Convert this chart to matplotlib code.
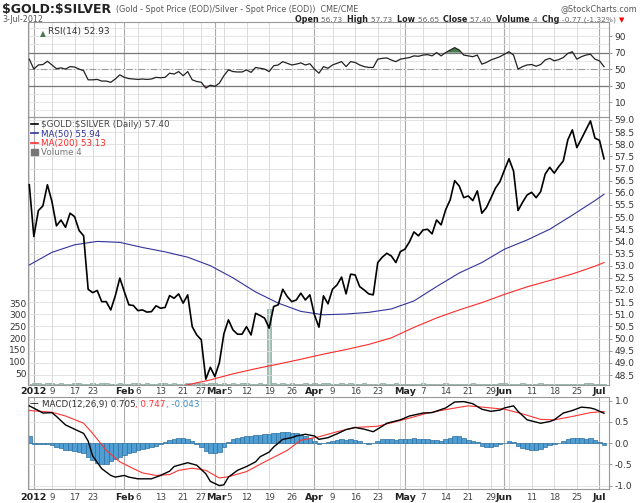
import matplotlib
matplotlib.use("Agg")
import matplotlib.pyplot as plt
from matplotlib.lines import Line2D
from matplotlib.patches import Patch
import numpy as np
import pandas as pd

# trading calendar (NYSE), 30-Dec-2011 .. 3-Jul-2012
holidays = ["2012-01-02", "2012-01-16", "2012-02-20", "2012-04-06", "2012-05-28"]
dates = pd.bdate_range("2011-12-30", "2012-07-03")
dates = dates[~dates.isin(pd.to_datetime(holidays))]

# $GOLD:$SILVER daily close
price = [56.33, 54.20, 55.27, 55.46, 56.33, 55.64, 54.64, 54.88, 54.58, 55.16,
         55.02, 54.45, 54.23, 52.03, 51.89, 51.98, 51.52, 51.52, 51.18, 51.76,
         52.49, 51.93, 51.39, 51.36, 51.15, 51.18, 51.09, 51.11, 51.35, 51.25,
         51.28, 51.77, 51.66, 51.84, 51.46, 51.80, 50.49, 50.15, 49.95, 48.33,
         48.82, 48.44, 49.01, 50.20, 50.77, 50.36, 50.18, 50.18, 50.49, 50.15,
         51.04, 50.95, 50.84, 50.43, 51.32, 51.39, 52.03, 51.73, 51.52, 51.59,
         51.87, 51.59, 51.80, 50.98, 50.47, 51.76, 51.43, 52.03, 52.21, 52.53,
         51.84, 52.65, 52.62, 52.14, 52.00, 51.84, 51.80, 53.13, 53.35, 53.51,
         53.40, 53.13, 53.58, 53.68, 53.98, 54.39, 54.23, 54.47, 54.50, 54.31,
         54.88, 54.68, 55.30, 55.71, 56.50, 56.28, 55.80, 55.87, 55.68, 56.08,
         55.16, 55.39, 55.78, 56.19, 56.46, 56.94, 57.40, 56.90, 55.27, 55.61,
         55.91, 56.02, 55.80, 56.05, 56.77, 57.05, 56.81, 57.08, 57.31, 58.18,
         58.59, 57.86, 58.22, 58.59, 58.96, 58.25, 58.16, 57.40]

volume = [6, 8, 8, 6, 8, 8, 6, 8, 6, 6, 8, 8, 6, 6, 8, 6, 8, 8, 6, 6,
          8, 6, 6, 8, 8, 6, 8, 6, 6, 8, 8, 6, 8, 6, 6, 8, 6, 8, 8, 6,
          8, 8, 6, 8, 6, 8, 6, 8, 8, 6, 6, 8, 6, 325, 8, 6, 8, 6, 8, 6,
          6, 8, 6, 8, 6, 8, 8, 6, 6, 8, 6, 8, 6, 6, 8, 6, 6, 6, 8, 6,
          6, 8, 6, 6, 6, 6, 6, 8, 6, 6, 6, 6, 8, 6, 6, 6, 6, 6, 8, 6,
          6, 6, 6, 6, 8, 8, 6, 6, 6, 8, 6, 6, 6, 8, 6, 6, 6, 6, 6, 6,
          6, 6, 6, 8, 8, 6, 6, 4]

# moving averages, read at sample days (index into dates)
ma50_days = [0, 5, 10, 15, 20, 25, 30, 35, 40, 45, 50, 55, 60, 65, 70, 75, 80,
             85, 90, 95, 100, 105, 110, 115, 120, 125, 127]
ma50 = [53.03, 53.55, 53.86, 54.00, 53.96, 53.75, 53.57, 53.35, 53.00, 52.50,
        51.92, 51.46, 51.12, 50.98, 51.01, 51.08, 51.22, 51.55, 52.14, 52.70,
        53.13, 53.68, 54.06, 54.50, 55.08, 55.68, 55.94]
ma200_days = [30, 35, 40, 45, 50, 55, 60, 65, 70, 75, 80, 85, 90, 95, 100,
              105, 110, 115, 120, 125, 127]
ma200 = [47.87, 48.10, 48.30, 48.55, 48.76, 48.95, 49.15, 49.36, 49.55, 49.76,
         50.03, 50.46, 50.85, 51.18, 51.48, 51.82, 52.13, 52.39, 52.66, 52.98,
         53.13]

rsi = [62, 50, 55, 55.5, 59.5, 55, 50.5, 51.5, 50, 53,
       52.5, 50, 48, 37, 37, 37.5, 35.5, 35.5, 34, 38,
       43, 40, 38.5, 38, 37.5, 38, 37.5, 38, 40, 39.5,
       40, 45, 44, 47, 42, 47, 37, 35, 34, 27,
       30.5, 29, 33, 42, 49, 47, 46.5, 46.5, 49, 46,
       52, 51, 50, 47, 54, 55, 59, 57, 55, 56,
       57.5, 55, 56.5, 50, 45, 53, 51, 55, 57, 59,
       53, 59, 58, 55, 53, 52, 52, 62, 63, 63.5,
       61, 59, 62, 63, 64, 66, 65.5, 67, 67.5, 66,
       70, 66, 70, 73, 76, 73, 67, 66, 65, 67,
       56, 58, 61, 63, 65, 68, 71, 67, 50, 53,
       55, 55.5, 53.5, 55.5, 61, 63, 60, 61.5, 64, 69,
       71, 62, 65, 67, 68, 62, 60, 52.93]

macd_days = [0, 2, 3, 5, 6, 8, 10, 12, 13, 14, 16, 18, 19, 21, 22, 24, 27, 29,
             31, 32, 35, 37, 39, 40, 42, 43, 44, 46, 48, 50, 51, 53, 54, 56, 58,
             59, 61, 63, 64, 66, 68, 70, 72, 74, 76, 78, 79, 82, 84, 87, 89, 92,
             94, 96, 98, 100, 102, 104, 105, 107, 108, 110, 113, 115, 116, 118,
             120, 122, 124, 125, 127]
macd = [0.88, 0.77, 0.71, 0.72, 0.63, 0.43, 0.33, 0.23, 0.05, -0.30, -0.60,
        -0.76, -0.80, -0.76, -0.80, -0.84, -0.84, -0.76, -0.66, -0.55, -0.46,
        -0.52, -0.72, -0.90, -1.00, -0.98, -0.80, -0.64, -0.55, -0.44, -0.32,
        -0.21, -0.09, 0.09, 0.13, 0.17, 0.21, 0.17, 0.09, 0.13, 0.22, 0.32,
        0.37, 0.33, 0.27, 0.40, 0.47, 0.55, 0.64, 0.71, 0.72, 0.83, 0.97,
        0.98, 0.93, 0.80, 0.75, 0.78, 0.83, 0.88, 0.75, 0.55, 0.47, 0.51,
        0.55, 0.71, 0.77, 0.85, 0.83, 0.80, 0.705]
signal_days = [0, 5, 8, 12, 14, 17, 20, 23, 25, 28, 31, 33, 36, 39, 41, 42, 44,
               48, 52, 57, 60, 64, 68, 72, 77, 80, 84, 88, 93, 97, 102, 105,
               109, 113, 116, 120, 124, 127]
signal = [0.77, 0.73, 0.64, 0.47, 0.23, -0.17, -0.44, -0.60, -0.70, -0.76,
          -0.74, -0.64, -0.59, -0.64, -0.76, -0.82, -0.79, -0.67, -0.44, -0.17,
          0.07, 0.15, 0.27, 0.37, 0.40, 0.48, 0.59, 0.71, 0.81, 0.88, 0.83,
          0.80, 0.69, 0.56, 0.55, 0.63, 0.72, 0.747]
hist = [0.17, -0.01, -0.03, -0.03, -0.02, -0.05, -0.08, -0.12, -0.15, -0.17,
        -0.18, -0.20, -0.24, -0.33, -0.40, -0.46, -0.50, -0.48, -0.43, -0.38,
        -0.32, -0.28, -0.24, -0.20, -0.17, -0.14, -0.12, -0.09, -0.06, -0.02,
        0.02, 0.07, 0.11, 0.13, 0.12, 0.11, 0.04, -0.03, -0.10, -0.18,
        -0.22, -0.23, -0.20, -0.10, 0.02, 0.09, 0.12, 0.14, 0.16, 0.18,
        0.19, 0.20, 0.21, 0.21, 0.23, 0.24, 0.26, 0.27, 0.25, 0.23,
        0.20, 0.16, 0.12, 0.05, -0.02, 0.00, 0.03, 0.06, 0.08, 0.10,
        0.08, 0.10, 0.08, 0.05, 0.01, -0.02, 0.00, 0.05, 0.09, 0.10,
        0.09, 0.08, 0.09, 0.10, 0.11, 0.12, 0.10, 0.10, 0.09, 0.07,
        0.07, 0.05, 0.09, 0.12, 0.18, 0.17, 0.13, 0.08, 0.05, 0.02,
        -0.06, -0.08, -0.08, -0.06, -0.03, 0.01, 0.04, 0.03, -0.07, -0.12,
        -0.14, -0.16, -0.16, -0.13, -0.09, -0.05, -0.03, 0.01, 0.05, 0.10,
        0.13, 0.12, 0.12, 0.11, 0.13, 0.08, 0.03, -0.043]

tick_dates = ["2012-01-03", "2012-01-09", "2012-01-17", "2012-01-23", "2012-02-01",
              "2012-02-06", "2012-02-13", "2012-02-21", "2012-02-27", "2012-03-01",
              "2012-03-05", "2012-03-12", "2012-03-19", "2012-03-26", "2012-04-02",
              "2012-04-09", "2012-04-16", "2012-04-23", "2012-05-01", "2012-05-07",
              "2012-05-14", "2012-05-21", "2012-05-29", "2012-06-01", "2012-06-11",
              "2012-06-18", "2012-06-25", "2012-07-02"]
tick_labels = ["2012", "9", "17", "23", "Feb", "6", "13", "21", "27", "Mar",
               "5", "12", "19", "26", "Apr", "9", "16", "23", "May", "7",
               "14", "21", "29", "Jun", "11", "18", "25", "Jul"]
bold_labels = ["2012", "Feb", "Mar", "Apr", "May", "Jun", "Jul"]

x = np.arange(len(dates))
pos = {d: i for i, d in enumerate(dates)}
week_start = [i for i in x if i == 0 or dates[i].weekday() < dates[i - 1].weekday()]
month_start = [i for i in x if i > 0 and dates[i].month != dates[i - 1].month]
tick_pos = [pos[pd.Timestamp(d)] for d in tick_dates]

W, H = 640, 503
fig = plt.figure(figsize=(W / 100, H / 100), dpi=100)
L, R = 28, 609


def rect(top, bottom):
    return [L / W, 1 - bottom / H, (R - L) / W, (bottom - top) / H]


ax_rsi = fig.add_axes(rect(22, 117))
ax_p = fig.add_axes(rect(117, 385))
ax_m = fig.add_axes(rect(396.5, 489))
ax_v = ax_p.twinx()
ax_p.set_zorder(ax_v.get_zorder() + 1)
ax_p.patch.set_visible(False)

tick_col = "#333333"
frame_col = "#999999"
xlim = (-0.29, 128.1)

for ax in (ax_rsi, ax_p, ax_m):
    ax.set_xlim(*xlim)
    for s in ax.spines.values():
        s.set_color(frame_col)
        s.set_linewidth(0.8)
    for i in week_start:
        ax.axvline(i, color="#dadada", lw=0.7, zorder=0)
    for i in month_start:
        ax.axvline(i, color="#aaaaaa", lw=0.8, zorder=0)
    ax.yaxis.tick_right()
    ax.tick_params(axis="y", labelsize=6.5, colors=tick_col, length=2.5,
                   width=0.6, pad=1.5, direction="out")
    ax.tick_params(axis="y", color="#888888")
    ax.set_xticks([])
ax_v.set_xlim(*xlim)

# ---- RSI panel
rsi_a = np.array(rsi)
for v in range(0, 101, 10):
    ax_rsi.axhline(v, color="#e2e2e2", lw=0.6, zorder=0)
ax_rsi.axhline(70, color="#777777", lw=0.9, zorder=1)
ax_rsi.axhline(30, color="#777777", lw=0.9, zorder=1)
ax_rsi.axhline(50, color="#999999", lw=0.8, ls=(0, (6, 2, 1, 2)), zorder=1)
ax_rsi.fill_between(x, rsi_a, 70, where=rsi_a >= 70, interpolate=True,
                    color="#4a7a4e", lw=0, zorder=2)
ax_rsi.fill_between(x, rsi_a, 30, where=rsi_a <= 30, interpolate=True,
                    color="#a05a5a", lw=0, zorder=2)
ax_rsi.plot(x, rsi_a, color="#222222", lw=0.9, zorder=3)
ax_rsi.set_ylim(-8, 107)
ax_rsi.set_yticks([10, 30, 50, 70, 90])
ax_rsi.text(0.02, 0.93, "\u25b2", color="#4a7a4e", fontsize=5.5,
            transform=ax_rsi.transAxes, va="top")
ax_rsi.text(0.034, 0.95, "RSI(14) 52.93", color="#333333", fontsize=6.5,
            transform=ax_rsi.transAxes, va="top")

# ---- price panel
for v in np.arange(48.5, 59.01, 0.5):
    ax_p.axhline(v, color="#dedede", lw=0.6, zorder=0)
ax_v.bar(x, volume, width=1.0, color="#a9c2ba", edgecolor="#8aa89e", lw=0.5)
ax_v.set_ylim(0, 1148)
ax_v.yaxis.tick_left()
ax_v.set_yticks(range(50, 351, 50))
ax_v.tick_params(axis="y", labelsize=6.5, colors=tick_col, length=0, pad=1)
for s in ax_v.spines.values():
    s.set_visible(False)

ax_p.plot(ma50_days, ma50, color="#33339a", lw=0.8, zorder=3)
ax_p.plot(ma200_days, ma200, color="#ff2a2a", lw=0.8, zorder=3)
ax_p.plot(x, price, color="black", lw=1.2, zorder=4)
ax_p.set_ylim(48.09, 59.12)
ax_p.set_yticks(np.arange(48.5, 59.01, 0.5))
ax_p.set_yticklabels([f"{v:.1f}" for v in np.arange(48.5, 59.01, 0.5)])

handles = [Line2D([], [], color="black", lw=1.2),
           Line2D([], [], color="#33339a", lw=1.2),
           Line2D([], [], color="#ff2a2a", lw=1.2),
           Patch(color="#777777")]
labels = ["\\$GOLD:\\$SILVER (Daily) 57.40", "MA(50) 55.94", "MA(200) 53.13",
          "Volume 4"]
ax_p.legend(handles, labels, loc="upper left", fontsize=6.3, frameon=False,
            handlelength=0.8, handletextpad=0.3, labelspacing=0.05,
            borderaxespad=0.15, borderpad=0.2,
            labelcolor=["#444444", "#33339a", "#ff2a2a", "#777777"])

# ---- MACD panel
for v in [-1.0, -0.5, 0.0, 0.5, 1.0]:
    ax_m.axhline(v, color="#e0e0e0", lw=0.6, zorder=0)
ax_m.bar(x, hist, width=1.0, color="#4f9fd4", edgecolor="#2e6f9e", lw=0.5,
         zorder=2)
ax_m.plot(signal_days, signal, color="#ff3333", lw=0.8, zorder=3)
ax_m.plot(macd_days, macd, color="black", lw=1.0, zorder=4)
ax_m.set_ylim(-1.08, 1.10)
ax_m.set_yticks([-1.0, -0.5, 0.0, 0.5, 1.0])
ax_m.set_yticklabels(["-1.0", "-0.5", "0.0", "0.5", "1.0"])

fig.canvas.draw()
renderer = fig.canvas.get_renderer()


def seq(xpx, ypx, pieces, ha="left"):
    arts = []
    cur = xpx
    for s, kw in pieces:
        t = fig.text(cur / W, 1 - ypx / H, s, va="center", parse_math=False, **kw)
        cur += t.get_window_extent(renderer).width
        arts.append(t)
    if ha == "right":
        shift = cur - xpx
        for t in arts:
            px, py = t.get_position()
            t.set_x(px - shift / W)
    return arts


seq(30, 404, [("\u2014 ", dict(color="black", fontsize=6.3)),
              ("MACD(12,26,9) 0.705", dict(color="#333333", fontsize=6.3)),
              (", 0.747", dict(color="#ff3333", fontsize=6.3)),
              (", -0.043", dict(color="#3d8fcc", fontsize=6.3))])

# date labels under price and MACD panels
nudge = {"Mar": 1.5, "5": 5.0}
for ypx in (392, 497):
    for p, lab in zip(tick_pos, tick_labels):
        b = lab in bold_labels
        off = nudge.get(lab, 0) if p in (pos[pd.Timestamp("2012-03-01")],
                                         pos[pd.Timestamp("2012-03-05")]) else 0
        fig.text((L + (p - xlim[0]) / (xlim[1] - xlim[0]) * (R - L) + off) / W,
                 1 - ypx / H, lab, ha="center", va="center",
                 fontsize=6.8 if b else 6.3, fontweight="bold" if b else "normal",
                 color="#222222" if b else "#444444")

# header
seq(2, 9, [("$GOLD:$SILVER ", dict(fontsize=9, fontweight="bold",
                                   color="#222222")),
           ("(Gold - Spot Price (EOD)/Silver - Spot Price (EOD))  CME/CME",
            dict(fontsize=5.8, color="#555555"))])
fig.text(637 / W, 1 - 9 / H, "@StockCharts.com", fontsize=5.8, color="#555555",
         va="center", ha="right")
fig.text(2 / W, 1 - 20 / H, "3-Jul-2012", fontsize=5.8, color="#555555",
         va="center")
bk = dict(fontsize=5.8, fontweight="bold", color="#222222")
gr = dict(fontsize=5.4, color="#666666")
seq(624, 20, [("Open ", bk), ("56.73  ", gr), ("High ", bk), ("57.73  ", gr),
              ("Low ", bk), ("56.65  ", gr), ("Close ", bk), ("57.40  ", gr),
              ("Volume ", bk), ("4  ", gr), ("Chg ", bk),
              ("-0.77 (-1.32%) ", gr), ("\u25bc", dict(fontsize=5, color="red"))],
    ha="right")

fig.savefig("out.png", dpi=100)
